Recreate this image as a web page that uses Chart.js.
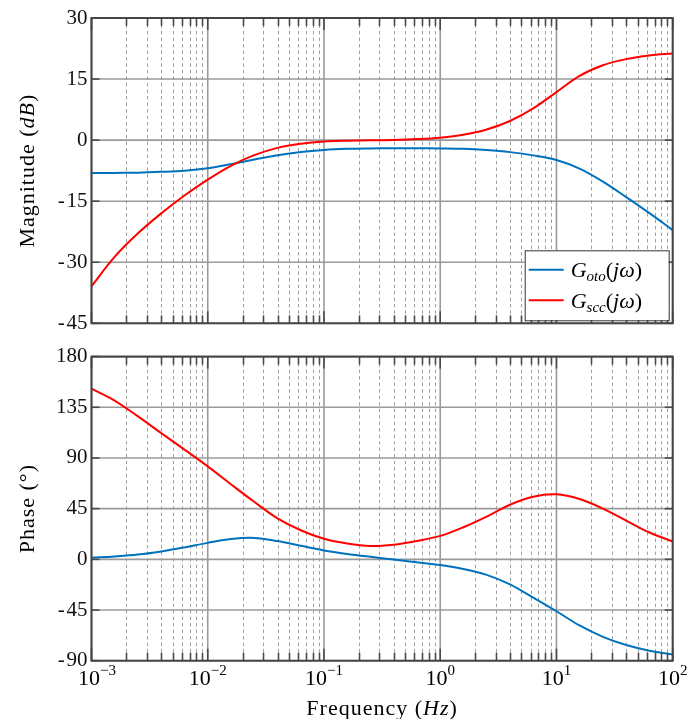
<!DOCTYPE html>
<html>
<head>
<meta charset="utf-8">
<title>Bode</title>
<script src="https://cdn.jsdelivr.net/npm/chart.js@4.4.1/dist/chart.umd.min.js"></script>
<style>
  html, body { margin: 0; padding: 0; background: #fff; }
  #wrap { position: relative; width: 698px; height: 719px; overflow: hidden; }
  canvas { position: absolute; left: 0; display: block; }
  #chart-mag { top: 0; }
  #chart-phase { top: 340px; }
</style>
</head>
<body>
<div id="wrap">
  <canvas id="chart-mag" width="698" height="340"></canvas>
  <canvas id="chart-phase" width="698" height="379"></canvas>
</div>
<script>
(function () {
  'use strict';

  // frequency response, five samples per decade
  var freqHz = [0.001, 0.00158, 0.00251, 0.00398, 0.00631,
    0.01, 0.0158, 0.0251, 0.0398, 0.0631,
    0.1, 0.158, 0.251, 0.398, 0.631,
    1, 1.58, 2.51, 3.98, 6.31,
    10, 15.8, 25.1, 39.8, 63.1, 100];
  var otoMagDb = [-8.1, -8.05, -8.0, -7.8, -7.5,
    -6.9, -5.9, -4.75, -3.7, -2.9,
    -2.4, -2.15, -2.05, -2.0, -2.0,
    -2.05, -2.15, -2.45, -2.95, -3.75,
    -4.9, -7.0, -10.2, -14.0, -17.95, -22.1];
  var sccMagDb = [-35.9, -28.7, -22.9, -18.0, -13.6,
    -9.7, -6.3, -3.7, -1.9, -0.9,
    -0.35, -0.15, -0.05, 0.05, 0.25,
    0.6, 1.3, 2.6, 4.7, 7.8,
    11.8, 15.8, 18.4, 19.9, 20.8, 21.3];
  var otoPhaseDeg = [1.5, 2.6, 4.2, 7.0, 10.6,
    14.6, 18.0, 19.0, 16.2, 12.0,
    7.9, 4.8, 2.2, -0.2, -2.6,
    -5.0, -8.5, -13.8, -22.2, -34.0,
    -46.1, -58.7, -68.8, -76.1, -81.1, -84.4];
  var sccPhaseDeg = [151.5, 140.9, 126.9, 112.1, 97.4,
    82.5, 66.7, 51.1, 36.4, 25.8,
    18.2, 14.0, 11.8, 13.0, 16.3,
    20.8, 28.5, 38.0, 48.5, 55.6,
    57.7, 53.5, 45.0, 34.4, 23.8, 15.8];

  var decadeTicks = [0.001, 0.01, 0.1, 1, 10, 100];
  var decadeExponents = ['\u22123', '\u22122', '\u22121', '0', '1', '2'];
  var magRange = [-45, 30];
  var magStep = 15;
  var phaseRange = [-90, 180];
  var phaseStep = 45;

  var BLUE = '#0072bd';
  var RED = '#ff0000';
  var SERIF = '"Liberation Serif", "Times New Roman", serif';

  function toPoints(ys) {
    return freqHz.map(function (f, i) { return { x: f, y: ys[i] }; });
  }

  // 2..9 inside every decade
  function minorTicks() {
    var out = [];
    for (var d = 0; d < decadeTicks.length - 1; d++) {
      for (var m = 2; m <= 9; m++) out.push(m * decadeTicks[d]);
    }
    return out;
  }

  function hline(ctx, x1, x2, y) {
    ctx.beginPath(); ctx.moveTo(x1, y); ctx.lineTo(x2, y); ctx.stroke();
  }
  function vline(ctx, x, y1, y2) {
    ctx.beginPath(); ctx.moveTo(x, y1); ctx.lineTo(x, y2); ctx.stroke();
  }

  // runs: [{text, font, dy}] drawn left to right from x
  function runsWidth(ctx, runs) {
    return runs.reduce(function (w, r) { ctx.font = r.font; return w + ctx.measureText(r.text).width; }, 0);
  }
  function drawRuns(ctx, runs, x, y) {
    runs.forEach(function (r) {
      ctx.font = r.font;
      ctx.fillText(r.text, x, y + (r.dy || 0));
      x += ctx.measureText(r.text).width;
    });
  }

  function titleRuns(plain, italic, tail) {
    var f = '22px ' + SERIF;
    return [
      { text: plain, font: f },
      { text: italic, font: 'italic ' + f },
      { text: tail, font: f }
    ];
  }

  function legendRuns(sub) {
    var big = '22px ' + SERIF;
    return [
      { text: 'G', font: 'italic ' + big },
      { text: sub, font: 'italic 15px ' + SERIF, dy: 4 },
      { text: '(', font: big },
      { text: 'j\u03c9', font: 'italic ' + big },
      { text: ')', font: big }
    ];
  }

  var framePlugin = {
    id: 'bodeFrame',
    beforeDatasetsDraw: function (chart) {
      var ctx = chart.ctx, a = chart.chartArea;
      var xs = chart.scales.x, ys = chart.scales.y;
      ctx.save();
      ctx.strokeStyle = '#a0a0a0';
      ctx.lineWidth = 1;
      ctx.setLineDash([3.5, 3]);
      minorTicks().forEach(function (v) {
        vline(ctx, Math.round(xs.getPixelForValue(v)) + 0.5, a.top, a.bottom);
      });
      ctx.setLineDash([]);
      ctx.lineWidth = 1.6;
      ctx.strokeStyle = '#9a9a9a';
      decadeTicks.forEach(function (v) {
        vline(ctx, xs.getPixelForValue(v), a.top, a.bottom);
      });
      ys.ticks.forEach(function (t) {
        hline(ctx, a.left, a.right, ys.getPixelForValue(t.value));
      });
      ctx.restore();
    },
    afterDraw: function (chart, args, opts) {
      var ctx = chart.ctx, a = chart.chartArea;
      var xs = chart.scales.x, ys = chart.scales.y;
      ctx.save();

      // tick marks on all four sides, pointing inwards
      ctx.strokeStyle = '#4a4a4a';
      ctx.lineWidth = 1.6;
      minorTicks().forEach(function (v) {
        var px = Math.round(xs.getPixelForValue(v)) + 0.5;
        vline(ctx, px, a.top, a.top + 8);
        vline(ctx, px, a.bottom, a.bottom - 8);
      });
      decadeTicks.forEach(function (v) {
        var px = xs.getPixelForValue(v);
        vline(ctx, px, a.top, a.top + 12);
        vline(ctx, px, a.bottom, a.bottom - 12);
      });
      ys.ticks.forEach(function (t) {
        var py = ys.getPixelForValue(t.value);
        hline(ctx, a.left, a.left + 8, py);
        hline(ctx, a.right, a.right - 8, py);
      });

      // frame
      ctx.lineWidth = 2;
      ctx.strokeStyle = '#454545';
      ctx.strokeRect(a.left, a.top, a.right - a.left, a.bottom - a.top);

      ctx.fillStyle = '#000';
      ctx.textBaseline = 'middle';

      // y axis title
      var tr = opts.yTitle;
      ctx.save();
      ctx.translate(28, (a.top + a.bottom) / 2);
      ctx.rotate(-Math.PI / 2);
      ctx.letterSpacing = '1px';
      drawRuns(ctx, tr, -runsWidth(ctx, tr) / 2, 0);
      ctx.restore();

      if (opts.xLabels) {
        ctx.textBaseline = 'alphabetic';
        decadeTicks.forEach(function (v, i) {
          var runs = [
            { text: '10', font: '22px ' + SERIF },
            { text: decadeExponents[i], font: '15px ' + SERIF, dy: -10 }
          ];
          var w = runsWidth(ctx, runs);
          var left = Math.max(xs.getPixelForValue(v) - w / 2, 78);
          drawRuns(ctx, runs, left, 345);
        });
        var xt = titleRuns('Frequency (', 'Hz', ')');
        ctx.save();
        ctx.letterSpacing = '1px';
        drawRuns(ctx, xt, (a.left + a.right) / 2 - runsWidth(ctx, xt) / 2, 375);
        ctx.restore();
      }

      if (opts.legend) {
        var bx = a.right - 148, by = a.bottom - 73, bw = 144, bh = 70;
        ctx.fillStyle = '#fff';
        ctx.fillRect(bx, by, bw, bh);
        ctx.lineWidth = 1;
        ctx.strokeStyle = '#333';
        ctx.strokeRect(bx + 0.5, by + 0.5, bw, bh);
        ctx.textBaseline = 'alphabetic';
        chart.data.datasets.forEach(function (ds, i) {
          var ly = by + 19.5 + i * 30.5;
          ctx.strokeStyle = ds.borderColor;
          ctx.lineWidth = 2;
          hline(ctx, bx + 4, bx + 39, ly);
          ctx.fillStyle = '#000';
          drawRuns(ctx, legendRuns(ds.label), bx + 46, ly + 7.5);
        });
      }
      ctx.restore();
    }
  };

  function makePanel(canvas, series, range, step, yTitle, padding, extra) {
    return new Chart(canvas, {
      type: 'line',
      data: {
        datasets: series.map(function (s) {
          return {
            label: s.label,
            data: toPoints(s.values),
            borderColor: s.color,
            backgroundColor: s.color,
            borderWidth: 2,
            pointRadius: 0,
            tension: 0.35,
            order: s.order,
            fill: false
          };
        })
      },
      options: {
        responsive: false,
        animation: false,
        devicePixelRatio: 1,
        layout: { padding: padding },
        scales: {
          x: { type: 'logarithmic', min: freqHz[0], max: freqHz[freqHz.length - 1], display: false },
          y: {
            min: range[0],
            max: range[1],
            ticks: {
              stepSize: step,
              padding: 4,
              color: '#111',
              font: { family: SERIF, size: 21 },
              callback: function (v) { return v < 0 ? '-\u200a' + Math.abs(v) : String(v); }
            },
            grid: { display: false, drawTicks: false },
            border: { display: false },
            afterFit: function (scale) { scale.width = 91.5; }
          }
        },
        plugins: {
          legend: { display: false },
          tooltip: { enabled: false },
          bodeFrame: {
            yTitle: yTitle,
            legend: extra.legend,
            xLabels: extra.xLabels
          }
        }
      },
      plugins: [framePlugin]
    });
  }

  makePanel(
    document.getElementById('chart-mag'),
    [
      { label: 'oto', values: otoMagDb, color: BLUE, order: 1 },
      { label: 'scc', values: sccMagDb, color: RED, order: 0 }
    ],
    magRange, magStep,
    titleRuns('Magnitude (', 'dB', ')'),
    { left: 0, right: 25.3, top: 18, bottom: 16.7 },
    { legend: true, xLabels: false }
  );

  makePanel(
    document.getElementById('chart-phase'),
    [
      { label: 'oto', values: otoPhaseDeg, color: BLUE, order: 1 },
      { label: 'scc', values: sccPhaseDeg, color: RED, order: 0 }
    ],
    phaseRange, phaseStep,
    titleRuns('Phase (', '', '\u00b0)'),
    { left: 0, right: 25.3, top: 15.3, bottom: 58.3 },
    { legend: false, xLabels: true }
  );
})();
</script>
</body>
</html>
